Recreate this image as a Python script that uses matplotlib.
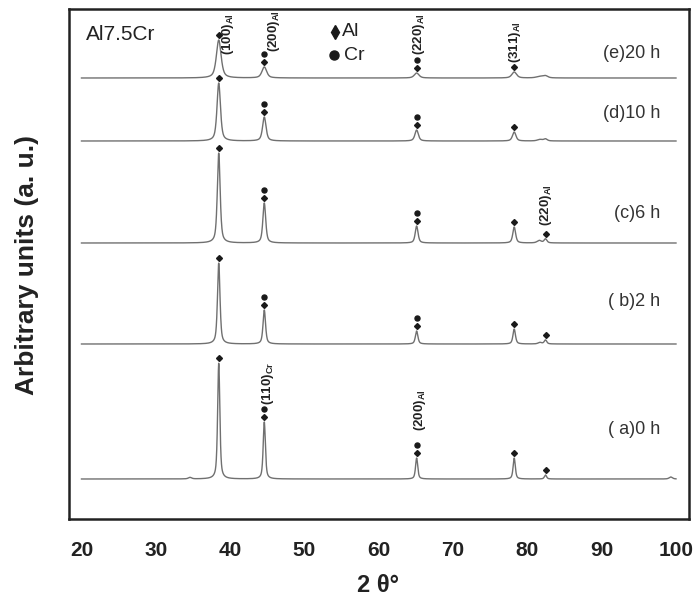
import numpy as np
import matplotlib
matplotlib.use("Agg")
import matplotlib.pyplot as plt

plt.rcParams['font.family'] = ['Liberation Sans', 'DejaVu Sans']
plt.rcParams['mathtext.fontset'] = 'custom'
plt.rcParams['mathtext.rm'] = 'Liberation Sans'
plt.rcParams['mathtext.bf'] = 'Liberation Sans:bold'

# ---------------- data ----------------
two_theta_start, two_theta_end = 20, 100
peak_positions = [38.47, 44.6, 65.1, 78.23, 82.44]
peak_phases = [['Al'], ['Al', 'Cr'], ['Al', 'Cr'], ['Al'], ['Al']]

sample_labels = ["( a)0 h", "( b)2 h", "(c)6 h", "(d)10 h", "(e)20 h"]
sample_offsets = [40, 175, 276, 378, 441]
heights_a = [116, 57, 21, 21, 4]
heights_b = [81, 34, 13, 15, 4]
heights_c = [90, 40, 17, 16, 4]
heights_d = [58, 24, 11, 9, 2]
heights_e = [38, 11, 5, 6, 2]
all_heights = [heights_a, heights_b, heights_c, heights_d, heights_e]
peak_fwhm = [0.35, 0.40, 0.45, 0.55, 0.75]
marked_peaks = [[0, 1, 2, 3, 4], [0, 1, 2, 3, 4], [0, 1, 2, 3, 4], [0, 1, 2, 3], [0, 1, 2, 3]]

# minor bumps (position, height) per sample
minor_a = [(34.6, 1.5), (99.3, 2.0)]
minor_b = [(81.7, 1.5)]
minor_c = [(81.6, 2.5)]
minor_d = [(81.7, 1.5)]
minor_e = [(81.7, 1.5)]
all_minor = [minor_a, minor_b, minor_c, minor_d, minor_e]

reflection_labels = [
    # (text, 2theta, bottom y)
    (r"$\mathbf{(100)_{Al}}$", 39.7, 464),
    (r"$\mathbf{(200)_{Al}}$", 45.9, 467),
    (r"$\mathbf{(220)_{Al}}$", 65.4, 464),
    (r"$\mathbf{(311)_{Al}}$", 78.3, 456),
    (r"$\mathbf{(220)_{Al}}$", 82.5, 293),
    (r"$\mathbf{(110)_{Cr}}$", 45.1, 114),
    (r"$\mathbf{(200)_{Al}}$", 65.55, 88),
]

# ---------------- figure ----------------
fig = plt.figure(figsize=(6.98, 6.02), dpi=100)
ax = fig.add_axes([69 / 698, 1 - 519 / 602, 620 / 698, 510 / 602])
ax.set_xlim(18.32, 101.75)
ax.set_ylim(0, 510)

x = np.linspace(two_theta_start, two_theta_end, 4001)


def pv(xx, c, w, eta=0.6):
    g = np.exp(-4 * np.log(2) * ((xx - c) / w) ** 2)
    l = 1 / (1 + 4 * ((xx - c) / w) ** 2)
    return eta * l + (1 - eta) * g


line_color = '#707070'
mark_color = '#1a1a1a'
for i in range(5):
    y = np.full_like(x, float(sample_offsets[i]))
    w = peak_fwhm[i]
    for p, h in zip(peak_positions, all_heights[i]):
        y += h * pv(x, p, w)
    for p, h in all_minor[i]:
        y += h * pv(x, p, w * 1.5)
    ax.plot(x, y, color=line_color, lw=1.0)

    for k in marked_peaks[i]:
        p = peak_positions[k]
        top = sample_offsets[i] + all_heights[i][k]
        phases = peak_phases[k]
        for j, ph in enumerate(phases):
            yy = top + 5 + 8 * j
            if ph == 'Al':
                ax.plot(p, yy, marker='D', ms=3.0, color=mark_color, mec=mark_color)
            else:
                ax.plot(p, yy, marker='o', ms=3.6, color=mark_color, mec=mark_color)

label_y = [89, 217, 305, 406, 466]
for lab, yy in zip(sample_labels, label_y):
    ax.text(97.85, yy, lab, ha='right', va='center', fontsize=13, color='#333333')

for txt, px, py in reflection_labels:
    ax.text(px, py, txt, rotation=90, ha='center', va='bottom', fontsize=9.5, color='#222222')

# legend
ax.plot(54.1, 487, marker='d', ms=7, color=mark_color)
ax.text(55.1, 487, "Al", ha='left', va='center', fontsize=14, color='#222222')
ax.plot(54.0, 464, marker='o', ms=6.5, color=mark_color)
ax.text(55.3, 464, "Cr", ha='left', va='center', fontsize=14, color='#222222')

ax.text(20.6, 485, "Al7.5Cr", ha='left', va='center', fontsize=15, color='#222222')

ax.set_xticks([20, 30, 40, 50, 60, 70, 80, 90, 100])
ax.set_xticklabels(['20', '30', '40', '50', '60', '70', '80', '90', '100'],
                   fontsize=15, fontweight='bold', color='#222222')
ax.tick_params(axis='x', length=0, pad=16)
ax.set_yticks([])
for s in ax.spines.values():
    s.set_linewidth(1.8)
    s.set_color('#222222')

fig.text(378 / 698, 1 - 586 / 602, "2 θ°", ha='center', va='center',
         fontsize=17, fontweight='bold', color='#222222')
fig.text(27 / 698, 1 - 265 / 602, "Arbitrary units (a. u.)", rotation=90,
         ha='center', va='center', fontsize=19, fontweight='bold', color='#222222')

fig.savefig("out.png", dpi=100, facecolor='white')
